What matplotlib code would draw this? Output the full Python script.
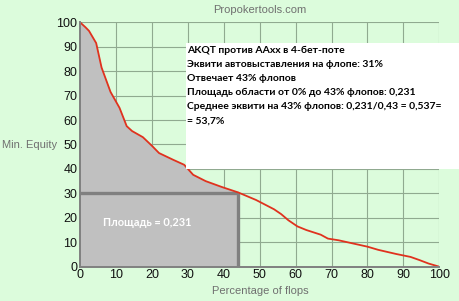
import numpy as np
import matplotlib
matplotlib.use("Agg")
import matplotlib.pyplot as plt
from matplotlib.patches import Rectangle

# percentage of flops vs minimum equity
flops = [0, 1.5, 2.5, 4.5, 6, 8.5, 11, 13, 14.5, 17.5, 20, 22, 26, 29, 31.5,
         35, 39.5, 44, 49, 54, 56, 58, 60.5, 63, 67, 69, 72, 76, 80, 83, 88,
         92, 94.5, 97, 100]
equity = [100, 98, 96.5, 91.5, 81.5, 71.5, 65, 57.5, 55.5, 53, 49.5, 46.5,
          43.7, 41.7, 37.6, 35, 32.6, 30.4, 27.3, 23.5, 21.5, 19, 16.5, 15,
          13.1, 11.5, 10.8, 9.5, 8.2, 6.9, 5.2, 4, 2.7, 1.3, 0]

cutoff_flops = 44
cutoff_equity = 30
ticks = list(range(0, 101, 10))

info_lines = [
    "AKQT против AAxx в 4-бет-поте",
    "Эквити автовыставления на флопе: 31%",
    "Отвечает 43% флопов",
    "Площадь области от 0% до 43% флопов: 0,231",
    "Среднее эквити на 43% флопов: 0,231/0,43 = 0,537=",
    "= 53,7%",
]
area_label = "Площадь = 0,231"

BG = "#dcfcdc"
RED = "#e0321e"

fig = plt.figure(figsize=(4.6, 3.01), dpi=100, facecolor=BG)
ax = fig.add_axes([80 / 460, 1 - 266.7 / 301, 359.3 / 460, 244.4 / 301])
ax.set_facecolor(BG)

x = np.array(flops)
y = np.array(equity)
xf = np.linspace(0, cutoff_flops, 200)
yf = np.interp(xf, x, y)
ax.fill_between(xf, 0, yf, color="#c0c0c0", zorder=2, linewidth=0)

ax.plot([0, cutoff_flops], [cutoff_equity, cutoff_equity], color="#808080",
        linewidth=2.4, zorder=3, solid_capstyle="butt")
ax.plot([cutoff_flops, cutoff_flops], [0, cutoff_equity], color="#808080",
        linewidth=2.4, zorder=3, solid_capstyle="butt")

ax.plot(x, y, color=RED, linewidth=1.3, zorder=4)

ax.set_xlim(0, 100)
ax.set_ylim(0, 100)
ax.set_xticks(ticks)
ax.set_yticks(ticks)
ax.grid(True, color="#90aa90", linewidth=0.8, zorder=1)
ax.set_axisbelow(True)
ax.tick_params(length=0, pad=2, labelsize=9, colors="#111111")
for lab in ax.get_xticklabels() + ax.get_yticklabels():
    lab.set_family("Liberation Sans")
for side in ["top", "right"]:
    ax.spines[side].set_visible(False)
for side in ["left", "bottom"]:
    ax.spines[side].set_color("#808080")
    ax.spines[side].set_linewidth(1.4)
    ax.spines[side].set_zorder(5)

ax.text(18.7, 18, area_label, color="white", fontsize=7.9, fontweight="bold",
        family="Lato", ha="center", va="center", zorder=6)

fig.text(2 / 460, 1 - 145 / 301, "Min. Equity", color="#707070", fontsize=8,
         family="Liberation Sans", ha="left", va="center")
fig.text(260 / 460, 1 - 291 / 301, "Percentage of flops", color="#707070",
         fontsize=8, family="Liberation Sans", ha="center", va="center")
fig.text(260 / 460, 1 - 10 / 301, "Propokertools.com", color="#707070",
         fontsize=8, family="Liberation Sans", ha="center", va="center")

box = Rectangle((186 / 460, 1 - 169 / 301), 274 / 460, 126 / 301,
                transform=fig.transFigure, facecolor="white", edgecolor="none",
                zorder=10)
fig.add_artist(box)
for i, line in enumerate(info_lines):
    fig.text(187 / 460, 1 - (50.5 + i * 14.1) / 301, line, color="black",
             fontsize=7.5, fontweight="bold", family="Lato",
             ha="left", va="center", zorder=11)

fig.savefig("out.png", dpi=100, facecolor=BG)
